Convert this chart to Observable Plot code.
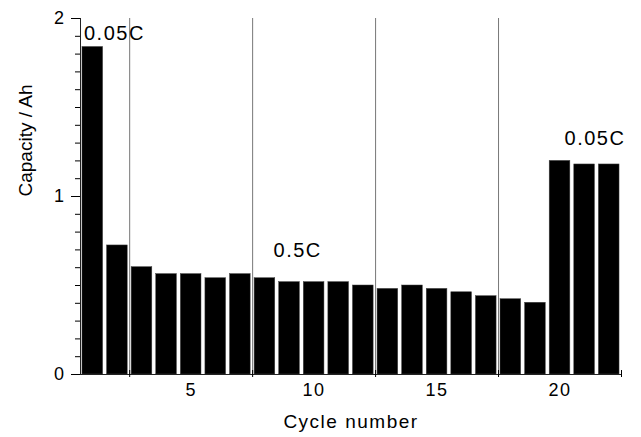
<!DOCTYPE html>
<html><head><meta charset="utf-8">
<script src="https://cdn.jsdelivr.net/npm/d3@7"></script>
<script src="https://cdn.jsdelivr.net/npm/@observablehq/plot@0.6"></script>
<style>
body{margin:0;background:#fff}
#chart svg text{letter-spacing:1.5px}
</style>
</head><body><div id="chart"></div>
<script>
const cycles = [1,2,3,4,5,6,7,8,9,10,11,12,13,14,15,16,17,18,19,20,21,22];
const capacity = [1.84,0.725,0.603,0.564,0.564,0.541,0.564,0.541,0.519,0.519,0.519,0.50,0.481,0.50,0.481,0.462,0.44,0.423,0.403,1.20,1.18,1.18];
const separators = [2.5,7.5,12.5,17.5];
const boundaryTicks = [2.5,7.5,12.5,17.5,22.5];
const xTicks = [5,10,15,20];
const xDomain = [0.5,22.5];
const yDomain = [0,2];
const yMajorTicks = [0,1,2];
const yMinorTicks = [0.1,0.2,0.3,0.4,0.5,0.6,0.7,0.8,0.9,1.1,1.2,1.3,1.4,1.5,1.6,1.7,1.8,1.9];
const rateLabels = ["0.05C","0.5C","0.05C"];
const rateLabelCycle = [1.88,9.33,21.42];
const rateLabelCapacity = [1.916,0.697,1.327];
const xTitle = "Cycle number";
const yTitle = "Capacity / Ah";

const bars = cycles.map((c,i)=>({cycle:c, capacity:capacity[i]}));
const notes = rateLabels.map((t,i)=>({text:t, x:rateLabelCycle[i], y:rateLabelCapacity[i]}));
const halfW = 0.42;

const chart = Plot.plot({
  width: 641, height: 437,
  marginLeft: 80, marginRight: 20, marginTop: 18, marginBottom: 63,
  style: {fontFamily: "'Liberation Sans', Arial, sans-serif", background: "#fff", color: "#000"},
  x: {type: "linear", domain: xDomain},
  y: {domain: yDomain},
  marks: [
    Plot.ruleX(separators, {stroke: "#777", strokeWidth: 1}),
    Plot.rectY(bars, {x1: d=>d.cycle-halfW, x2: d=>d.cycle+halfW, y1: 0, y2: "capacity", fill: "#000", stroke: "#444", strokeWidth: 0.5}),
    Plot.ruleY([yDomain[0]], {stroke: "#222"}),
    Plot.ruleX([xDomain[0]], {stroke: "#222"}),
    Plot.axisY(yMajorTicks, {tickSize: 9, tickPadding: 6, fontSize: 18, label: null, tickFormat: d=>String(d)}),
    Plot.axisY(yMinorTicks, {tickSize: 5, tickFormat: ()=>"", label: null}),
    Plot.axisX(xTicks, {tickSize: 0, tickPadding: 9, fontSize: 18, label: null, tickFormat: d=>String(d)}),
    Plot.axisX(boundaryTicks, {tickSize: 7, dy: -4, tickFormat: ()=>"", label: null}),
    Plot.text(notes, {x: "x", y: "y", text: "text", fontSize: 20, textAnchor: "middle", lineAnchor: "middle", fill: "#000"}),
    Plot.text([xTitle], {frameAnchor: "bottom", dy: 47, fontSize: 19, lineAnchor: "middle"}),
    Plot.text([yTitle], {frameAnchor: "left", dx: -55, rotate: -90, fontSize: 19, lineAnchor: "middle"})
  ]
});
document.getElementById("chart").appendChild(chart);
d3.select(chart).selectAll("text").filter(function(){return this.textContent===yTitle;}).style("letter-spacing","0px");
</script>
</body></html>
